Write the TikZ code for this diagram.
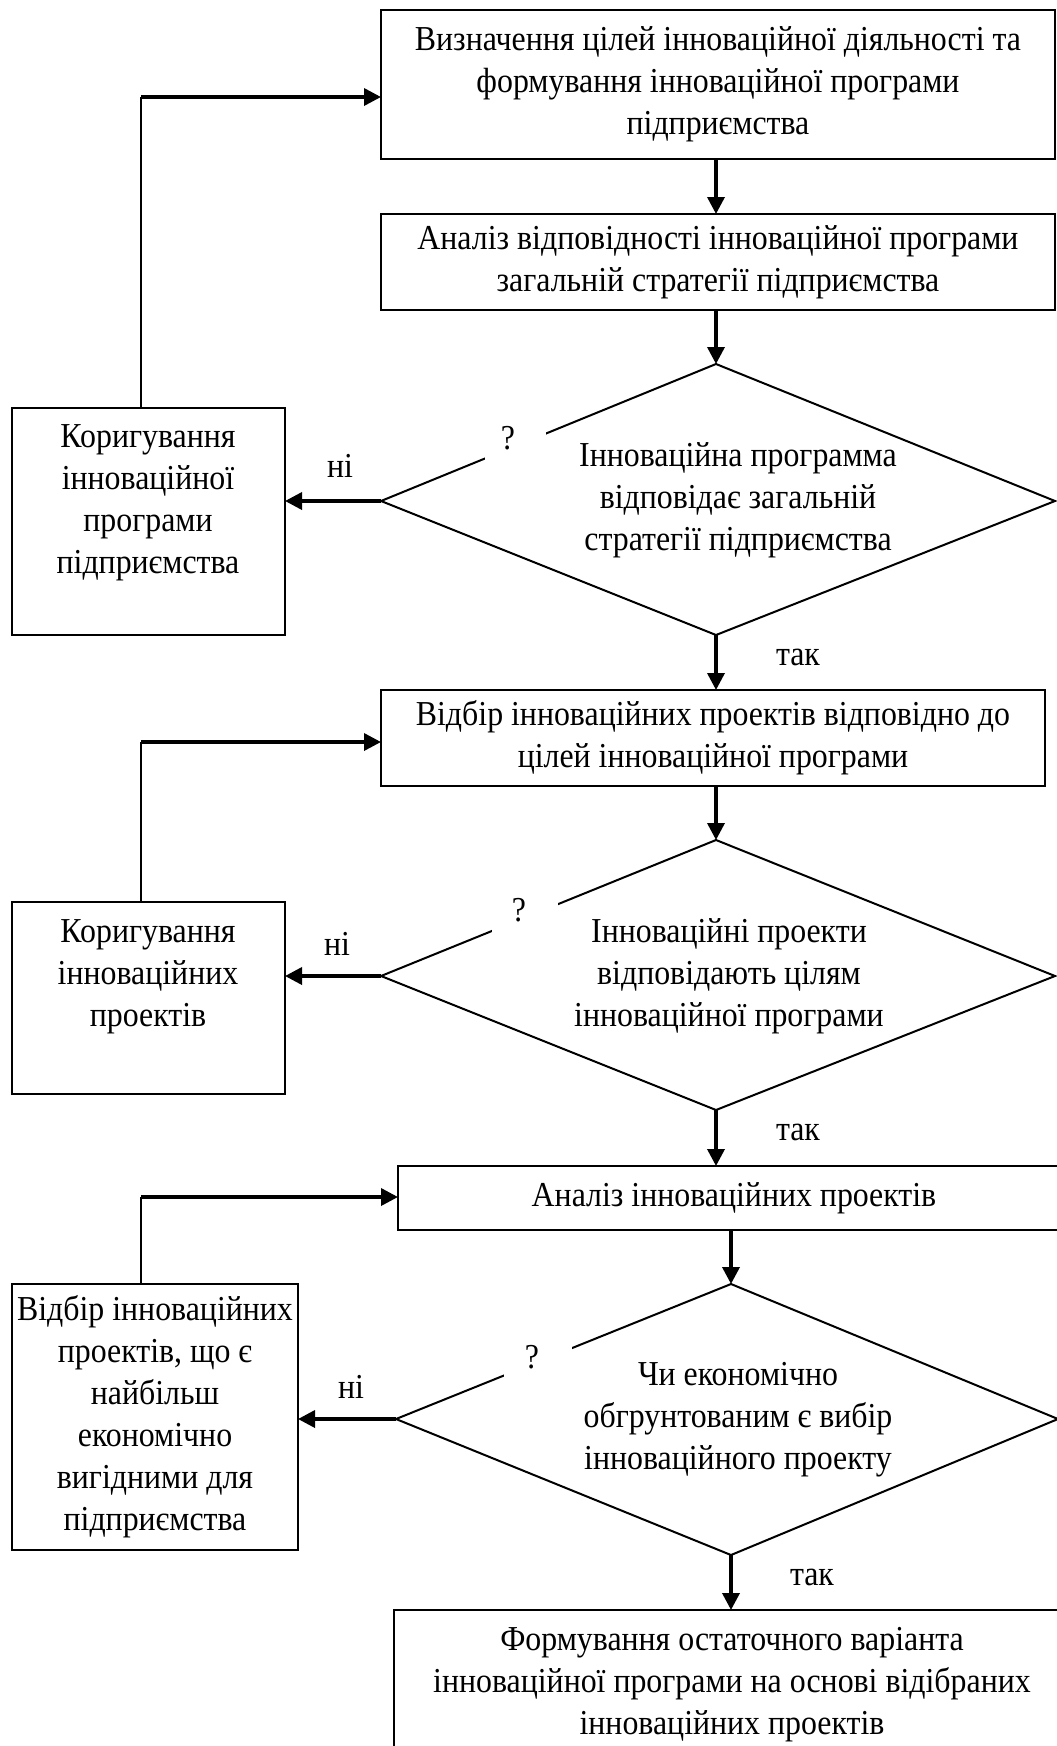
\documentclass[tikz,border=0pt]{standalone}
\usepackage{fontspec}
\setmainfont[FakeStretch=0.91]{Liberation Serif}
\usetikzlibrary{arrows.meta}
\begin{document}
\begin{tikzpicture}[x=1pt,y=-1pt,
  font=\fontsize{35}{42}\selectfont,
  box/.style={draw, line width=2pt, inner sep=0pt, outer sep=0pt, align=center},
  txt/.style={align=center, inner sep=0pt},
  arr/.style={line width=3.5pt, -{Triangle[length=17pt,width=17pt]}},
  link/.style={line width=2pt},
  dia/.style={line width=2pt, line join=miter},
  gapbox/.style={fill=white, inner sep=0pt, outer sep=0pt}
]
\clip (0,0) rectangle (1057,1746);

% ---------- boxes ----------
\node[box, minimum width=674pt, minimum height=149pt] (b1) at (718,84.5)
  {Визначення цілей інноваційної діяльності та\\формування інноваційної програми\\підприємства};
\node[box, minimum width=674pt, minimum height=96pt] (b2) at (718,262)
  {Аналіз відповідності інноваційної програми\\загальній стратегії підприємства};
\node[box, minimum width=273pt, minimum height=227pt] (b3) at (148.5,521.5) {};
\node[txt] (b3t) at (148,502.5) {Коригування\\інноваційної\\програми\\підприємства};
\node[box, minimum width=664pt, minimum height=96pt] (b4) at (713,738)
  {Відбір інноваційних проектів відповідно до\\цілей інноваційної програми};
\node[box, minimum width=273pt, minimum height=192pt] (b5) at (148.5,998) {};
\node[txt] (b5t) at (148,977) {Коригування\\інноваційних\\проектів};
\node[box, minimum width=672pt, minimum height=64pt] (b6) at (734,1198)
  {Аналіз інноваційних проектів};
\node[box, minimum width=286pt, minimum height=266pt] (b7) at (155,1417)
  {Відбір інноваційних\\проектів, що є\\найбільш\\економічно\\вигідними для\\підприємства};
\node[box, minimum width=676pt, minimum height=150pt] (b8) at (732,1685)
  {Формування остаточного варіанта\\інноваційної програми на основі відібраних\\інноваційних проектів};

% ---------- diamonds ----------
\coordinate (d1t) at (716,364);  \coordinate (d1l) at (381,501);
\coordinate (d1b) at (716,635);  \coordinate (d1r) at (1055,501);
\draw[dia] (d1t) -- (d1r) -- (d1b) -- (d1l) -- cycle;
\node[txt] (d1x) at (738,500) {Інноваційна программа\\відповідає загальній\\стратегії підприємства};
\node[gapbox, minimum width=61pt, minimum height=36pt] (g1) at (515.5,446) {};
\node[txt] (q1) at (508,438) {?};

\coordinate (d2t) at (716,840);  \coordinate (d2l) at (381,976);
\coordinate (d2b) at (716,1110); \coordinate (d2r) at (1055,976);
\draw[dia] (d2t) -- (d2r) -- (d2b) -- (d2l) -- cycle;
\node[txt] (d2x) at (729,976) {Інноваційні проекти\\відповідають цілям\\інноваційної програми};
\node[gapbox, minimum width=66pt, minimum height=36pt] (g2) at (525,918) {};
\node[txt] (q2) at (519,910) {?};

\coordinate (d3t) at (731,1284); \coordinate (d3l) at (396,1419);
\coordinate (d3b) at (731,1555); \coordinate (d3r) at (1058,1419);
\draw[dia] (d3t) -- (d3r) -- (d3b) -- (d3l) -- cycle;
\node[txt] (d3x) at (738,1420) {Чи економічно\\обгрунтованим є вибір\\інноваційного проекту};
\node[gapbox, minimum width=68pt, minimum height=36pt] (g3) at (538,1362) {};
\node[txt] (q3) at (532,1357) {?};

% ---------- main flow ----------
\draw[arr] (d1t |- b1.south) -- (d1t |- b2.north);
\draw[arr] (d1t |- b2.south) -- (d1t);
\draw[arr] (d1b) -- (d1b |- b4.north);
\draw[arr] (d2t |- b4.south) -- (d2t);
\draw[arr] (d2b) -- (d2b |- b6.north);
\draw[arr] (d3t |- b6.south) -- (d3t);
\draw[arr] (d3b) -- (d3b |- b8.north);

% ---------- "no" branches ----------
\draw[arr] (d1l) -- (d1l -| b3.east);
\draw[arr] (d2l) -- (d2l -| b5.east);
\draw[arr] (d3l) -- (d3l -| b7.east);

% ---------- feedback loops ----------
\coordinate (c1) at (141,97);
\draw[link] (c1 |- b3.north) -- (c1);
\draw[arr] (c1) -- (c1 -| b1.west);
\coordinate (c2) at (141,742);
\draw[link] (c2 |- b5.north) -- (c2);
\draw[arr] (c2) -- (c2 -| b4.west);
\coordinate (c3) at (141,1197);
\draw[link] (c3 |- b7.north) -- (c3);
\draw[arr] (c3) -- (c3 -| b6.west);

% ---------- labels ----------
\node[txt] (n1) at (340,466) {ні};
\node[txt] (n2) at (337,944) {ні};
\node[txt] (n3) at (351,1387) {ні};
\node[txt] (y1) at (798,657) {так};
\node[txt] (y2) at (798,1132) {так};
\node[txt] (y3) at (812,1577) {так};
\end{tikzpicture}
\end{document}
